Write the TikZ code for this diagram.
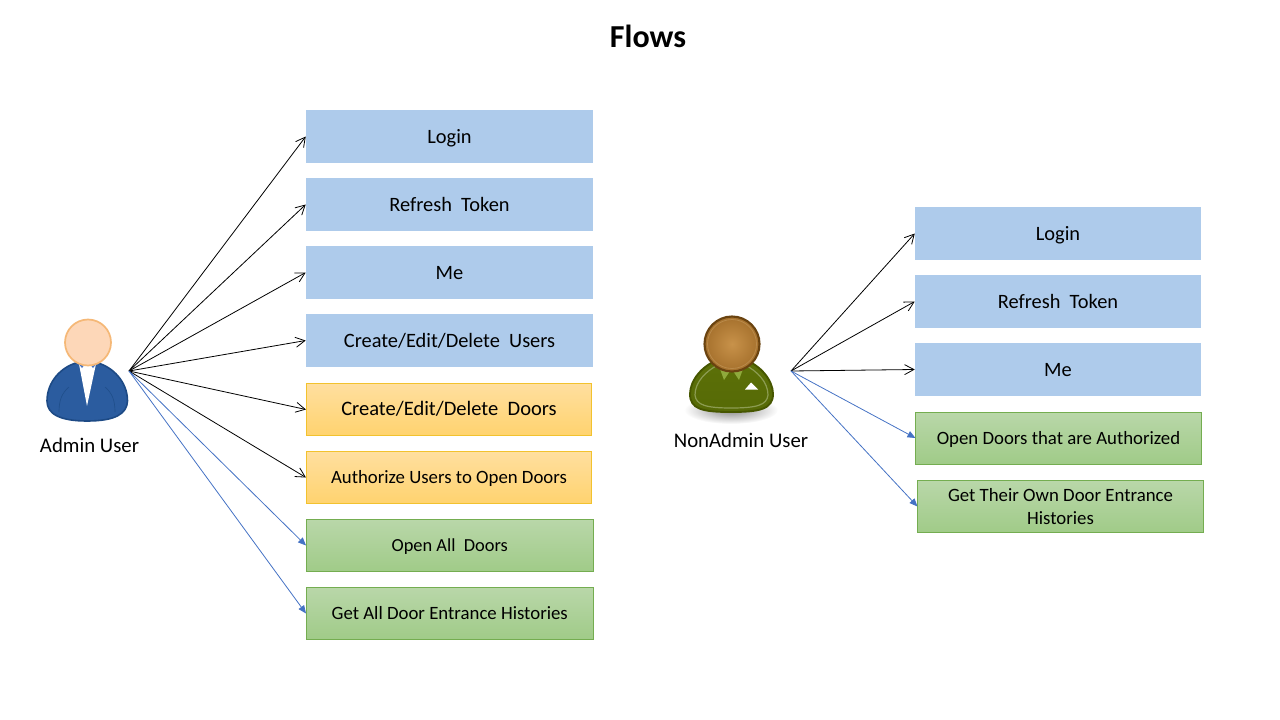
\documentclass[tikz,border=0pt]{standalone}
\usepackage{fontspec}
\setmainfont{Carlito}
\usetikzlibrary{arrows.meta,shadings}
\definecolor{bluebox}{HTML}{AECBEB}
\definecolor{orangetop}{HTML}{FFDF9F}
\definecolor{orangebot}{HTML}{FFD36F}
\definecolor{orangeline}{HTML}{F2C22E}
\definecolor{greentop}{HTML}{B9D7A9}
\definecolor{greenbot}{HTML}{A0CB88}
\definecolor{greenline}{HTML}{74AD50}
\definecolor{arrowblue}{HTML}{4472C4}
\definecolor{suit}{HTML}{2B5C9F}
\definecolor{suitline}{HTML}{1D4A85}
\definecolor{skin}{HTML}{FDD7B8}
\definecolor{skinline}{HTML}{F5B877}
\definecolor{oliveline}{HTML}{465600}
\definecolor{olivetop}{HTML}{5C7008}
\definecolor{olivebot}{HTML}{566A06}
\definecolor{olivelight}{HTML}{8C9C52}
\definecolor{collar}{HTML}{8FAA3C}
\definecolor{headin}{HTML}{C8924A}
\definecolor{headout}{HTML}{A5702C}
\definecolor{headline}{HTML}{6A4310}
\definecolor{headring}{HTML}{B98A4A}
\tikzset{
  box/.style={inner sep=0pt,align=center,text=black,text height=13.8pt,text depth=3.2pt,font=\fontsize{15.3pt}{18pt}\selectfont},
  boxblue/.style={box,fill=bluebox,minimum width=215.25pt,minimum height=39.75pt},
  boxorange/.style={box,text height=12.6pt,top color=orangetop,bottom color=orangebot,draw=orangeline,line width=.6pt,minimum width=214pt,minimum height=39pt,font=\fontsize{14.1pt}{17pt}\selectfont},
  boxgreen/.style={box,text height=12.6pt,top color=greentop,bottom color=greenbot,draw=greenline,line width=.6pt,minimum width=215pt,minimum height=39pt,font=\fontsize{14.1pt}{17.25pt}\selectfont},
  iconlabel/.style={font=\fontsize{15.6pt}{18pt}\selectfont,inner sep=0pt},
  blackarrow/.style={draw=black,line width=.6pt,-{Straight Barb[length=7pt,width=7.5pt,line width=.6pt]}},
  bluearrow/.style={draw=arrowblue,line width=.6pt,-{Triangle[length=6pt,width=5pt,fill=arrowblue]}}
}
\begin{document}
\begin{tikzpicture}[x=.75pt,y=-.75pt]
\useasboundingbox (0,0) rectangle (1280,720);
\node[font=\bfseries\fontsize{24pt}{28pt}\selectfont,inner sep=0pt] (title) at (648,36.5) {Flows};
% boxes left
\node[boxblue] (l1) at (449.5,136.5) {Login};
\node[boxblue] (l2) at (449.5,204.5) {Refresh\ \ Token};
\node[boxblue] (l3) at (449.5,272.5) {Me};
\node[boxblue] (l4) at (449.5,340.5) {Create/Edit/Delete\ \ Users};
\node[boxorange,font=\fontsize{15.4pt}{18pt}\selectfont] (l5) at (449,409.5) {Create/Edit/Delete\ \ Doors};
\node[boxorange] (l6) at (449,477.5) {Authorize Users to Open Doors};
\node[boxgreen,font=\fontsize{13.8pt}{17pt}\selectfont] (l7) at (449.75,545.5) {Open All\ \ Doors};
\node[boxgreen] (l8) at (449.75,613.5) {Get All Door Entrance Histories};
% boxes right
\node[boxblue,minimum width=214.5pt] (r1) at (1058,233.5) {Login};
\node[boxblue,minimum width=214.5pt] (r2) at (1058,301.5) {Refresh\ \ Token};
\node[boxblue,minimum width=214.5pt] (r3) at (1058,369.5) {Me};
\node[boxgreen,minimum width=214pt] (r4) at (1058.5,438) {Open Doors that are Authorized};
\node[boxgreen,minimum width=214pt,text height=,text depth=] (r5) at (1060.5,506.5) {Get Their Own Door Entrance\\Histories};
% admin icon
\draw[suitline,fill=suit,line width=1.2pt]
  (76,363) .. controls (62,367) and (47,381) .. (47,401)
  .. controls (47,414) and (60,421) .. (87,421)
  .. controls (115,421) and (127,414) .. (127.5,401)
  .. controls (127.5,381) and (112,367) .. (98,363) -- cycle;
\draw[suitline!75!suit,line width=.5pt] (59,412) .. controls (59,400) and (62,393) .. (69,387);
\draw[suitline!75!suit,line width=.5pt] (115,412) .. controls (115,400) and (112,393) .. (105,387);
\fill[white] (79,364) -- (87,406) -- (96,364) -- cycle;
\fill[arrowblue] (78,363) -- (82,368) -- (85,364) -- cycle;
\fill[arrowblue] (97,363) -- (93,368) -- (90,364) -- cycle;
\draw[skinline,fill=skin,line width=1.3pt] (88,342.5) circle[radius=23];
\node[iconlabel] (adminlabel) at (89.5,445.5) {Admin User};
% non-admin icon
\shade[inner color=black!45,outer color=white] (731,410) ellipse[x radius=47,y radius=14];
\draw[oliveline,top color=olivetop,bottom color=olivebot,line width=1.4pt]
  (718,360) .. controls (703,365) and (690,380) .. (690,394)
  .. controls (690,409) and (702,412) .. (731,412)
  .. controls (760,412) and (773,409) .. (773,394)
  .. controls (773,380) and (760,365) .. (745,360) -- cycle;
\draw[olivelight,line width=.9pt]
  (695,395) .. controls (695,382) and (706,371) .. (718,365)
  (768,395) .. controls (768,382) and (757,371) .. (745,365)
  (695,395) .. controls (696,405) and (706,408) .. (731,408) .. controls (757,408) and (767,405) .. (768,395);
\fill[collar] (720,369) -- (724,380) -- (730,371) -- cycle;
\fill[collar] (743,369) -- (739,380) -- (733,371) -- cycle;
\fill[white] (745,389.5) -- (751,382.5) -- (758,389.5) -- cycle;
\shade[inner color=headin,outer color=headout,draw=headline,line width=1.6pt] (732,344) circle[radius=27.5];
\draw[headring,line width=.6pt] (732,344) circle[radius=24.5];
\node[iconlabel] (nonlabel) at (741,440.5) {NonAdmin User};
% hubs
\coordinate (hubl) at (129,371);
\coordinate (hubr) at (791,371);
\foreach \t in {l1,l2,l3,l4,l5,l6} \draw[blackarrow] (hubl) -- (\t.west);
\foreach \t in {l7,l8} \draw[bluearrow] (hubl) -- (\t.west);
\foreach \t in {r1,r2,r3} \draw[blackarrow] (hubr) -- (\t.west);
\foreach \t in {r4,r5} \draw[bluearrow] (hubr) -- (\t.west);
\end{tikzpicture}
\end{document}
